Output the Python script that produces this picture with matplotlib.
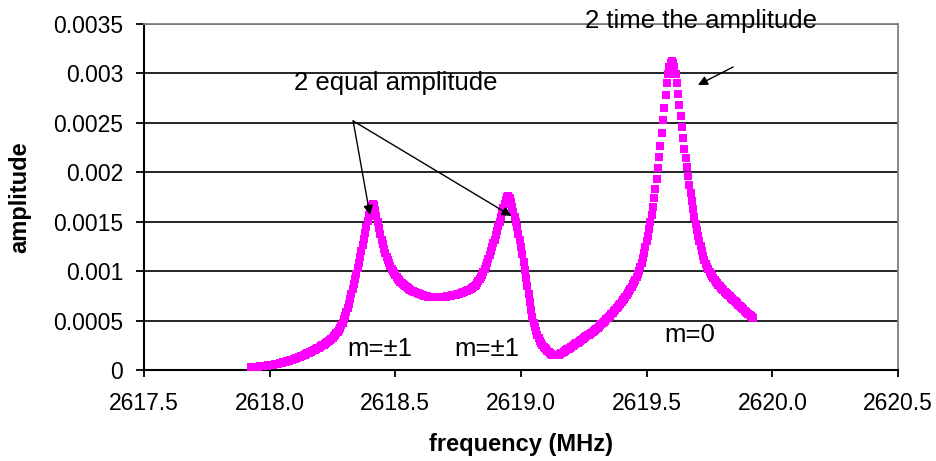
import numpy as np
import matplotlib
matplotlib.use("Agg")
import matplotlib.pyplot as plt

plt.rcParams['font.family'] = ['Liberation Sans', 'DejaVu Sans']

# ---------------- data ----------------
frequency_mhz = [
    2617.925, 2617.930, 2617.935, 2617.940, 2617.945, 2617.950, 2617.955, 2617.960, 2617.965, 2617.970,
    2617.975, 2617.980, 2617.985, 2617.990, 2617.995, 2618.000, 2618.005, 2618.010, 2618.015, 2618.020,
    2618.025, 2618.030, 2618.035, 2618.040, 2618.045, 2618.050, 2618.055, 2618.060, 2618.065, 2618.070,
    2618.075, 2618.080, 2618.085, 2618.090, 2618.095, 2618.100, 2618.105, 2618.110, 2618.115, 2618.120,
    2618.125, 2618.130, 2618.135, 2618.140, 2618.145, 2618.150, 2618.155, 2618.160, 2618.165, 2618.170,
    2618.175, 2618.180, 2618.185, 2618.190, 2618.195, 2618.200, 2618.205, 2618.210, 2618.215, 2618.220,
    2618.225, 2618.230, 2618.235, 2618.240, 2618.245, 2618.250, 2618.255, 2618.260, 2618.265, 2618.270,
    2618.275, 2618.280, 2618.285, 2618.290, 2618.295, 2618.300, 2618.305, 2618.310, 2618.315, 2618.320,
    2618.325, 2618.330, 2618.335, 2618.340, 2618.345, 2618.350, 2618.355, 2618.360, 2618.365, 2618.370,
    2618.375, 2618.380, 2618.385, 2618.390, 2618.395, 2618.400, 2618.405, 2618.410, 2618.415, 2618.420,
    2618.425, 2618.430, 2618.435, 2618.440, 2618.445, 2618.450, 2618.455, 2618.460, 2618.465, 2618.470,
    2618.475, 2618.480, 2618.485, 2618.490, 2618.495, 2618.500, 2618.505, 2618.510, 2618.515, 2618.520,
    2618.525, 2618.530, 2618.535, 2618.540, 2618.545, 2618.550, 2618.555, 2618.560, 2618.565, 2618.570,
    2618.575, 2618.580, 2618.585, 2618.590, 2618.595, 2618.600, 2618.605, 2618.610, 2618.615, 2618.620,
    2618.625, 2618.630, 2618.635, 2618.640, 2618.645, 2618.650, 2618.655, 2618.660, 2618.665, 2618.670,
    2618.675, 2618.680, 2618.685, 2618.690, 2618.695, 2618.700, 2618.705, 2618.710, 2618.715, 2618.720,
    2618.725, 2618.730, 2618.735, 2618.740, 2618.745, 2618.750, 2618.755, 2618.760, 2618.765, 2618.770,
    2618.775, 2618.780, 2618.785, 2618.790, 2618.795, 2618.800, 2618.805, 2618.810, 2618.815, 2618.820,
    2618.825, 2618.830, 2618.835, 2618.840, 2618.845, 2618.850, 2618.855, 2618.860, 2618.865, 2618.870,
    2618.875, 2618.880, 2618.885, 2618.890, 2618.895, 2618.900, 2618.905, 2618.910, 2618.915, 2618.920,
    2618.925, 2618.930, 2618.935, 2618.940, 2618.945, 2618.950, 2618.955, 2618.960, 2618.965, 2618.970,
    2618.975, 2618.980, 2618.985, 2618.990, 2618.995, 2619.000, 2619.005, 2619.010, 2619.015, 2619.020,
    2619.025, 2619.030, 2619.035, 2619.040, 2619.045, 2619.050, 2619.055, 2619.060, 2619.065, 2619.070,
    2619.075, 2619.080, 2619.085, 2619.090, 2619.095, 2619.100, 2619.105, 2619.110, 2619.115, 2619.120,
    2619.125, 2619.130, 2619.135, 2619.140, 2619.145, 2619.150, 2619.155, 2619.160, 2619.165, 2619.170,
    2619.175, 2619.180, 2619.185, 2619.190, 2619.195, 2619.200, 2619.205, 2619.210, 2619.215, 2619.220,
    2619.225, 2619.230, 2619.235, 2619.240, 2619.245, 2619.250, 2619.255, 2619.260, 2619.265, 2619.270,
    2619.275, 2619.280, 2619.285, 2619.290, 2619.295, 2619.300, 2619.305, 2619.310, 2619.315, 2619.320,
    2619.325, 2619.330, 2619.335, 2619.340, 2619.345, 2619.350, 2619.355, 2619.360, 2619.365, 2619.370,
    2619.375, 2619.380, 2619.385, 2619.390, 2619.395, 2619.400, 2619.405, 2619.410, 2619.415, 2619.420,
    2619.425, 2619.430, 2619.435, 2619.440, 2619.445, 2619.450, 2619.455, 2619.460, 2619.465, 2619.470,
    2619.475, 2619.480, 2619.485, 2619.490, 2619.495, 2619.500, 2619.505, 2619.510, 2619.515, 2619.520,
    2619.525, 2619.530, 2619.535, 2619.540, 2619.545, 2619.550, 2619.555, 2619.560, 2619.565, 2619.570,
    2619.575, 2619.580, 2619.585, 2619.590, 2619.595, 2619.600, 2619.605, 2619.610, 2619.615, 2619.620,
    2619.625, 2619.630, 2619.635, 2619.640, 2619.645, 2619.650, 2619.655, 2619.660, 2619.665, 2619.670,
    2619.675, 2619.680, 2619.685, 2619.690, 2619.695, 2619.700, 2619.705, 2619.710, 2619.715, 2619.720,
    2619.725, 2619.730, 2619.735, 2619.740, 2619.745, 2619.750, 2619.755, 2619.760, 2619.765, 2619.770,
    2619.775, 2619.780, 2619.785, 2619.790, 2619.795, 2619.800, 2619.805, 2619.810, 2619.815, 2619.820,
    2619.825, 2619.830, 2619.835, 2619.840, 2619.845, 2619.850, 2619.855, 2619.860, 2619.865, 2619.870,
    2619.875, 2619.880, 2619.885, 2619.890, 2619.895, 2619.900, 2619.905, 2619.910, 2619.915, 2619.920,
    2619.925,
]

# amplitude in micro-units (1e-6)
amplitude_micro = [
    30, 30, 31, 32, 33, 34, 35, 36, 37, 38,
    39, 40, 42, 44, 46, 48, 50, 52, 54, 56,
    58, 61, 64, 67, 70, 73, 77, 81, 85, 89,
    93, 97, 101, 105, 110, 115, 120, 125, 130, 135,
    140, 145, 150, 156, 162, 168, 174, 180, 186, 192,
    198, 204, 211, 218, 225, 232, 240, 248, 256, 265,
    274, 284, 294, 305, 316, 328, 341, 355, 370, 386,
    405, 427, 452, 480, 511, 545, 583, 625, 670, 716,
    765, 815, 866, 920, 975, 1030, 1087, 1145, 1205, 1265,
    1327, 1390, 1450, 1510, 1565, 1615, 1655, 1680, 1665, 1615,
    1555, 1495, 1435, 1375, 1320, 1270, 1220, 1180, 1140, 1110,
    1080, 1050, 1020, 1000, 980, 960, 940, 920, 910, 890,
    880, 870, 860, 850, 840, 830, 820, 810, 800, 800,
    790, 790, 780, 780, 770, 770, 760, 760, 750, 750,
    750, 740, 740, 740, 740, 735, 735, 735, 735, 735,
    735, 735, 735, 740, 740, 740, 745, 745, 750, 750,
    755, 755, 760, 760, 765, 770, 770, 780, 780, 790,
    790, 800, 800, 810, 810, 820, 830, 840, 850, 860,
    880, 900, 920, 940, 960, 990, 1020, 1050, 1080, 1120,
    1160, 1200, 1240, 1280, 1320, 1370, 1410, 1460, 1500, 1550,
    1600, 1640, 1680, 1720, 1750, 1760, 1740, 1700, 1650, 1600,
    1550, 1500, 1450, 1380, 1310, 1240, 1170, 1090, 1010, 930,
    850, 770, 690, 610, 540, 480, 430, 390, 350, 320,
    290, 270, 250, 230, 220, 210, 190, 180, 170, 162,
    156, 152, 150, 150, 152, 156, 162, 169, 177, 185,
    193, 201, 209, 217, 225, 233, 242, 251, 260, 269,
    278, 287, 296, 305, 314, 323, 332, 341, 350, 359,
    368, 378, 388, 398, 408, 418, 429, 440, 451, 464,
    476, 488, 500, 512, 525, 538, 551, 565, 579, 593,
    608, 623, 639, 655, 671, 688, 705, 723, 741, 760,
    780, 800, 821, 843, 866, 890, 915, 940, 970, 1000,
    1040, 1080, 1130, 1180, 1240, 1300, 1360, 1430, 1500, 1570,
    1650, 1740, 1830, 1930, 2040, 2150, 2270, 2400, 2530, 2650,
    2780, 2900, 2990, 3060, 3110, 3130, 3110, 3060, 2990, 2900,
    2790, 2680, 2570, 2460, 2350, 2240, 2140, 2050, 1960, 1870,
    1790, 1710, 1630, 1550, 1480, 1420, 1360, 1300, 1250, 1200,
    1150, 1110, 1075, 1045, 1017, 992, 969, 948, 929, 911,
    894, 878, 863, 848, 834, 820, 807, 794, 781, 769,
    757, 745, 733, 721, 709, 697, 685, 673, 661, 649,
    637, 625, 613, 601, 589, 577, 565, 554, 543, 532,
    521,
]

x_ticks = [2617.5, 2618.0, 2618.5, 2619.0, 2619.5, 2620.0, 2620.5]
x_tick_labels = ['2617.5', '2618.0', '2618.5', '2619.0', '2619.5', '2620.0', '2620.5']
y_ticks = [0, 0.0005, 0.001, 0.0015, 0.002, 0.0025, 0.003, 0.0035]
y_tick_labels = ['0', '0.0005', '0.001', '0.0015', '0.002', '0.0025', '0.003', '0.0035']

assert len(frequency_mhz) == len(amplitude_micro)
freq = np.array(frequency_mhz)
amp = np.array(amplitude_micro) * 1e-6

# ---------------- figure ----------------
fig = plt.figure(figsize=(9.36, 4.61), dpi=100)
ax = fig.add_axes([144/936, 1 - 370/461, (898-144)/936, (370-24)/461])

ax.set_xlim(2617.5, 2620.5)
ax.set_ylim(0, 0.0035)
ax.set_axisbelow(True)
ax.yaxis.grid(True, color='black', linewidth=1.2)

ax.plot(freq, amp, linestyle='none', marker='s', markersize=6.4,
        markeredgewidth=0, color='#FF00FF', zorder=3)

ax.set_xticks(x_ticks)
ax.set_xticklabels(x_tick_labels)
ax.set_yticks(y_ticks)
ax.set_yticklabels(y_tick_labels)
ax.tick_params(axis='both', direction='out', labelsize=16.5, width=1.3, color='black')
ax.tick_params(axis='y', length=6, pad=9)
ax.tick_params(axis='x', length=5, pad=11)

for s in ['left', 'bottom']:
    ax.spines[s].set_color('black')
    ax.spines[s].set_linewidth(1.5)
for s in ['top', 'right']:
    ax.spines[s].set_color('#808080')
    ax.spines[s].set_linewidth(1.3)

ax.set_xlabel('frequency (MHz)', fontsize=17, fontweight='bold')
ax.xaxis.set_label_coords(0.5, -(445 - 370) / 346)
ax.xaxis.label.set_va('center')
ax.set_ylabel('amplitude', fontsize=17, fontweight='bold')
ax.yaxis.set_label_coords(-(144 - 20) / 754, 0.5)
ax.yaxis.label.set_va('center')

# ---------------- annotations ----------------
txt_size = 18.5
ax.text(2618.097, 0.00290, '2 equal amplitude', fontsize=txt_size, ha='left', va='center')
ax.text(2619.255, 0.00353, '2 time the amplitude', fontsize=txt_size, ha='left', va='center')
ax.text(2618.439, 0.000212, 'm=\u00b11', fontsize=txt_size, ha='center', va='center')
ax.text(2618.865, 0.000212, 'm=\u00b11', fontsize=txt_size, ha='center', va='center')
ax.text(2619.672, 0.000354, 'm=0', fontsize=txt_size, ha='center', va='center')

arrow = dict(arrowstyle='-|>', color='black', lw=1.0, shrinkA=0, shrinkB=0, mutation_scale=14)
ax.annotate('', xy=(2618.399, 0.001568), xytext=(2618.332, 0.00252), arrowprops=arrow)
ax.annotate('', xy=(2618.962, 0.001558), xytext=(2618.332, 0.00252), arrowprops=arrow)
ax.annotate('', xy=(2619.704, 0.002883), xytext=(2619.844, 0.003065), arrowprops=arrow)

fig.savefig('out.png', dpi=100)
